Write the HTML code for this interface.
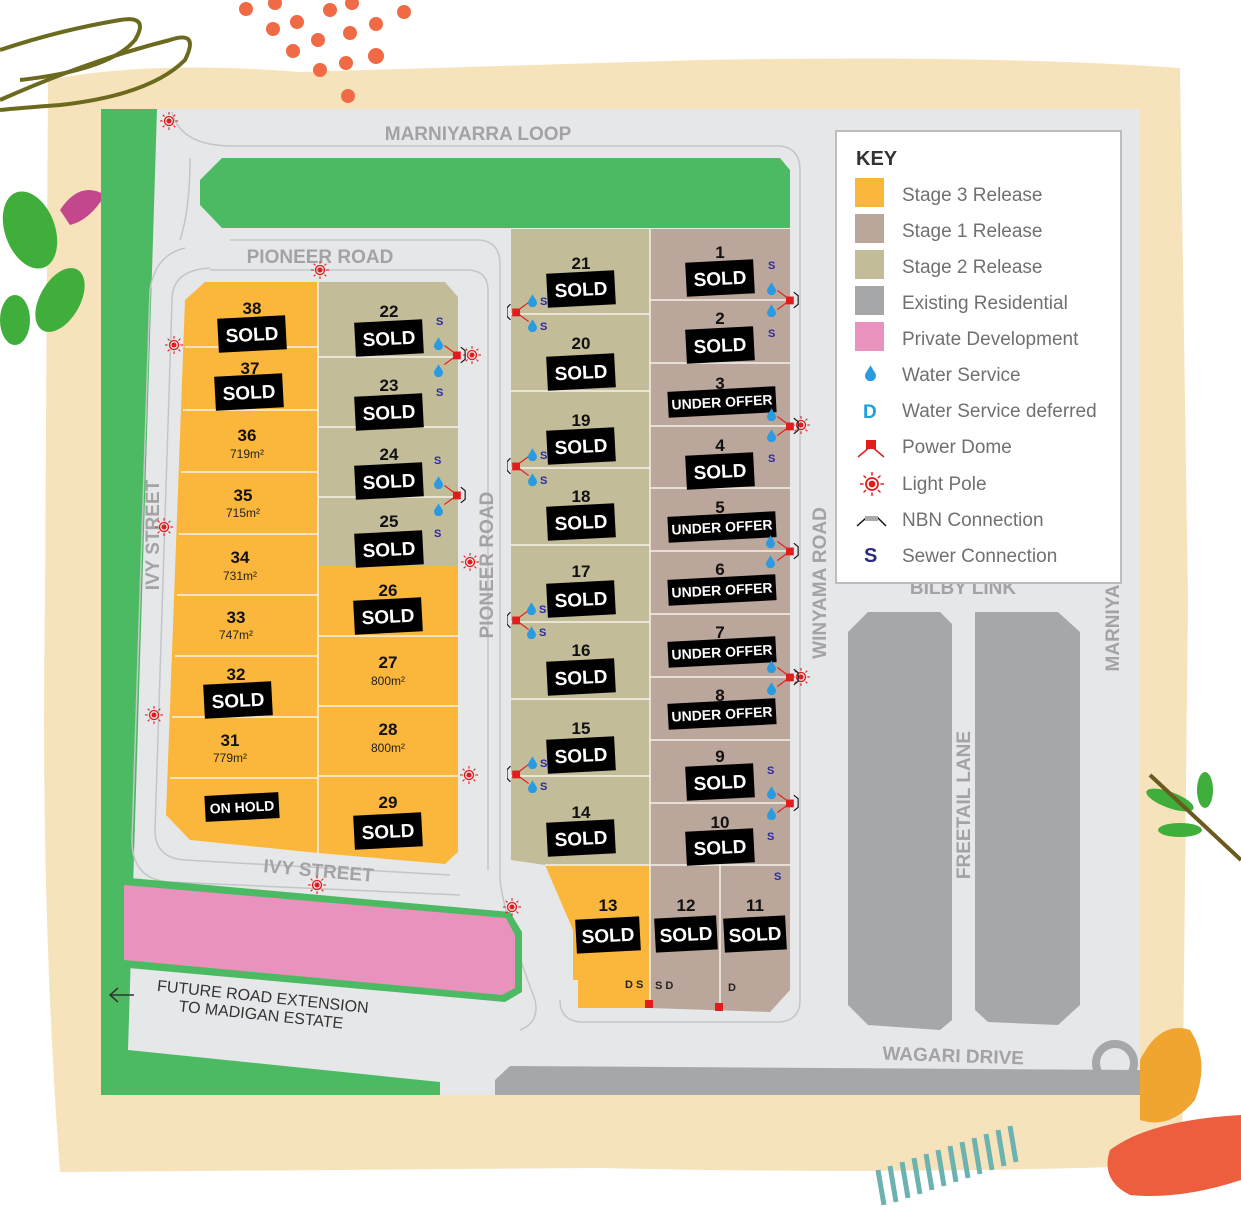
<!DOCTYPE html>
<html><head><meta charset="utf-8"><style>
html,body{margin:0;padding:0;background:#fff;}
svg{display:block;font-family:"Liberation Sans",sans-serif;}
.rd{fill:#a3a3a5;font-weight:bold;font-size:19px;}
.n{font-weight:bold;font-size:17px;fill:#111;text-anchor:middle;}
.a{font-size:12px;fill:#222;text-anchor:middle;}
.st{fill:#fff;font-weight:bold;font-size:19px;text-anchor:middle;}
.uo{fill:#fff;font-weight:bold;font-size:14px;text-anchor:middle;}
.k{font-size:19px;fill:#707070;}
.s{fill:#2a2aa8;font-weight:bold;font-size:11px;}
.ln{fill:none;stroke:#c4c5c8;stroke-width:1.5;}
.w{stroke:#f4f1ea;stroke-width:1.5;}
</style></head><body>
<svg width="1241" height="1213" viewBox="0 0 1241 1213" xmlns="http://www.w3.org/2000/svg">
<defs>
<symbol id="drop" viewBox="0 0 10 14"><path d="M5 0 C7 4 10 7 10 9.5 A5 5 0 0 1 0 9.5 C0 7 3 4 5 0Z" fill="#2a9be0"/></symbol>
<symbol id="lp" viewBox="0 0 20 20"><circle cx="10" cy="10" r="5" fill="none" stroke="#e01c1c" stroke-width="1.5"/><circle cx="10" cy="10" r="2.8" fill="#e01c1c"/><g stroke="#e01c1c" stroke-width="1.2"><line x1="10" y1="0" x2="10" y2="3"/><line x1="10" y1="17" x2="10" y2="20"/><line x1="0" y1="10" x2="3" y2="10"/><line x1="17" y1="10" x2="20" y2="10"/><line x1="3" y1="3" x2="5" y2="5"/><line x1="15" y1="15" x2="17" y2="17"/><line x1="17" y1="3" x2="15" y2="5"/><line x1="3" y1="17" x2="5" y2="15"/></g></symbol>
<symbol id="pdL" viewBox="0 0 30 30"><line x1="10" y1="15" x2="25" y2="4" stroke="#e01c1c" stroke-width="1.3"/><line x1="10" y1="15" x2="25" y2="26" stroke="#e01c1c" stroke-width="1.3"/><rect x="6" y="11" width="9" height="9" fill="#e01c1c"/><path d="M4 6 L0 10 L0 20 L4 24" stroke="#111" fill="none" stroke-width="1.3"/></symbol>
<symbol id="pdR" viewBox="0 0 30 30"><line x1="20" y1="15" x2="5" y2="4" stroke="#e01c1c" stroke-width="1.3"/><line x1="20" y1="15" x2="5" y2="26" stroke="#e01c1c" stroke-width="1.3"/><rect x="15" y="11" width="9" height="9" fill="#e01c1c"/><path d="M24 6 L29 10 L29 20 L24 24" stroke="#111" fill="none" stroke-width="1.3"/></symbol>
</defs>

<!-- decorative background -->
<path d="M48 80 Q150 60 300 72 L700 60 Q1000 55 1180 68 L1188 600 L1182 1165 Q900 1175 600 1168 L60 1172 Q40 900 45 600 Z" fill="#f6e3bb"/>
<g fill="#f06b45">
<circle cx="246" cy="9" r="7"/><circle cx="275" cy="3" r="7"/><circle cx="330" cy="10" r="7"/><circle cx="352" cy="3" r="7"/><circle cx="404" cy="12" r="7"/>
<circle cx="273" cy="29" r="7"/><circle cx="297" cy="22" r="7"/><circle cx="318" cy="40" r="7"/><circle cx="350" cy="33" r="7"/><circle cx="376" cy="24" r="7"/>
<circle cx="293" cy="51" r="7"/><circle cx="346" cy="63" r="7"/><circle cx="376" cy="56" r="8"/><circle cx="320" cy="70" r="7"/><circle cx="348" cy="96" r="7"/>
</g>
<g fill="none" stroke="#6b6a1e" stroke-width="4">
<path d="M0 50 Q60 30 120 20 Q150 15 135 40 Q110 70 20 80"/>
<path d="M0 100 Q90 60 170 40 Q200 30 185 60 Q150 95 60 105 Q20 108 0 110"/>
</g>
<g fill="#3fae3a">
<ellipse cx="30" cy="230" rx="25" ry="40" transform="rotate(-20 30 230)"/>
<ellipse cx="60" cy="300" rx="20" ry="35" transform="rotate(30 60 300)"/>
<ellipse cx="15" cy="320" rx="15" ry="25"/>
</g>
<path d="M60 210 Q80 180 105 195 Q90 220 70 225Z" fill="#c2478d"/>
<g fill="#3fae3a"><ellipse cx="1170" cy="800" rx="25" ry="8" transform="rotate(20 1170 800)"/><ellipse cx="1205" cy="790" rx="8" ry="18"/><ellipse cx="1180" cy="830" rx="22" ry="7"/></g>
<line x1="1150" y1="775" x2="1241" y2="860" stroke="#6b5a1e" stroke-width="4"/>
<path d="M1140 1060 Q1160 1020 1190 1030 Q1210 1060 1195 1100 Q1170 1130 1140 1120Z" fill="#f0a530"/>
<path d="M1110 1150 Q1150 1120 1241 1115 L1241 1180 Q1180 1200 1130 1195 Q1100 1180 1110 1150Z" fill="#ec5e3e"/>
<g stroke="#6cb2b0" stroke-width="5"><line x1="878" y1="1170" x2="884" y2="1205"/><line x1="890" y1="1166" x2="896" y2="1202"/><line x1="902" y1="1162" x2="908" y2="1198"/><line x1="914" y1="1158" x2="920" y2="1194"/><line x1="926" y1="1154" x2="932" y2="1190"/><line x1="938" y1="1150" x2="944" y2="1186"/><line x1="950" y1="1146" x2="956" y2="1182"/><line x1="962" y1="1142" x2="968" y2="1178"/><line x1="974" y1="1138" x2="980" y2="1174"/><line x1="986" y1="1134" x2="992" y2="1170"/><line x1="998" y1="1130" x2="1004" y2="1166"/><line x1="1010" y1="1126" x2="1016" y2="1162"/></g>

<!-- map -->
<rect x="101" y="109" width="1039" height="986" fill="#e6e7e9"/>
<polygon points="101,109 157,109 128,1050 440,1082 440,1095 101,1095" fill="#4cba62"/>
<!-- road outlines -->
<path class="ln" d="M172 112 Q180 145 230 146 L780 146 Q800 148 800 170 L800 1000 Q800 1020 780 1022 L580 1022 Q560 1020 560 1000"/>
<path class="ln" d="M230 240 L480 240 Q500 242 500 265 L500 880 Q505 920 535 1000 Q540 1022 520 1030"/>
<path class="ln" d="M210 270 L470 270 Q488 272 488 290 L488 870"/>
<path class="ln" d="M185 248 Q155 255 150 290 L132 840 Q132 880 170 882 L460 895"/>
<path class="ln" d="M210 268 Q172 270 172 300 L155 830 Q155 858 185 860 L450 875"/>
<path class="ln" d="M190 158 Q190 210 180 240"/>
<!-- top green park -->
<polygon points="222,158 780,158 790,170 790,228 222,228 200,205 200,180" fill="#4cba62"/>
<!-- orange left -->
<polygon points="205,282 318,282 318,853 190,840 166,815 185,300" fill="#fbb73c"/>
<polygon points="318,566 458,566 458,852 445,864 318,853" fill="#fbb73c"/>
<polygon points="318,282 445,282 458,297 458,566 318,566" fill="#c2bc98"/>
<polygon points="511,229 650,229 650,865 545,865 511,860" fill="#c2bc98"/>
<polygon points="545,865 650,865 650,1008 578,1008 578,980 573,980 573,930" fill="#fbb73c"/>
<polygon points="650,229 790,229 790,990 770,1012 650,1008" fill="#bba69c"/>
<!-- lot lines -->
<g class="w">
<line x1="185" y1="347" x2="318" y2="347"/><line x1="183" y1="410" x2="318" y2="410"/><line x1="181" y1="472" x2="318" y2="472"/><line x1="179" y1="534" x2="318" y2="534"/><line x1="177" y1="595" x2="318" y2="595"/><line x1="175" y1="656" x2="318" y2="656"/><line x1="172" y1="717" x2="318" y2="717"/><line x1="170" y1="778" x2="318" y2="778"/>
<line x1="318" y1="282" x2="318" y2="853"/>
<line x1="318" y1="357" x2="458" y2="357"/><line x1="318" y1="427" x2="458" y2="427"/><line x1="318" y1="497" x2="458" y2="497"/><line x1="318" y1="636" x2="458" y2="636"/><line x1="318" y1="706" x2="458" y2="706"/><line x1="318" y1="776" x2="458" y2="776"/>
<line x1="511" y1="314" x2="650" y2="314"/><line x1="511" y1="391" x2="650" y2="391"/><line x1="511" y1="468" x2="650" y2="468"/><line x1="511" y1="545" x2="650" y2="545"/><line x1="511" y1="622" x2="650" y2="622"/><line x1="511" y1="699" x2="650" y2="699"/><line x1="511" y1="776" x2="650" y2="776"/><line x1="545" y1="865" x2="790" y2="865"/>
<line x1="650" y1="229" x2="650" y2="1008"/><line x1="720" y1="865" x2="720" y2="1010"/>
<line x1="650" y1="300" x2="790" y2="300"/><line x1="650" y1="363" x2="790" y2="363"/><line x1="650" y1="426" x2="790" y2="426"/><line x1="650" y1="488" x2="790" y2="488"/><line x1="650" y1="551" x2="790" y2="551"/><line x1="650" y1="614" x2="790" y2="614"/><line x1="650" y1="677" x2="790" y2="677"/><line x1="650" y1="740" x2="790" y2="740"/><line x1="650" y1="803" x2="790" y2="803"/>
</g>
<!-- pink -->
<polygon points="118,877 510,912 522,932 522,992 505,1002 118,967" fill="#4cba62"/>
<polygon points="124,885 506,918 515,935 515,988 502,995 124,960" fill="#ea92be"/>
<!-- existing residential -->
<polygon points="868,612 940,612 952,624 952,1020 940,1030 868,1025 848,1005 848,632" fill="#a6a7a9"/>
<polygon points="975,612 1058,612 1080,632 1080,1005 1058,1025 988,1022 975,1010 975,624" fill="#a6a7a9"/>
<polygon points="510,1066 1140,1070 1140,1095 495,1095 495,1080" fill="#a6a7a9"/>
<circle cx="1115" cy="1063" r="19" fill="none" stroke="#a6a7a9" stroke-width="8"/>

<!-- road labels -->
<text class="rd" x="478" y="140" text-anchor="middle">MARNIYARRA LOOP</text>
<text class="rd" x="320" y="263" text-anchor="middle">PIONEER ROAD</text>
<text class="rd" x="159" y="535" text-anchor="middle" transform="rotate(-90 159 535)">IVY STREET</text>
<text class="rd" x="493" y="565" text-anchor="middle" transform="rotate(-90 493 565)">PIONEER ROAD</text>
<text class="rd" x="826" y="583" text-anchor="middle" transform="rotate(-90 826 583)">WINYAMA ROAD</text>
<text class="rd" x="318" y="877" text-anchor="middle" transform="rotate(5 318 877)">IVY STREET</text>
<text class="rd" x="970" y="805" text-anchor="middle" transform="rotate(-90 970 805)">FREETAIL LANE</text>
<text class="rd" x="963" y="594" text-anchor="middle">BILBY LINK</text>
<text class="rd" x="1119" y="628" text-anchor="middle" transform="rotate(-90 1119 628)">MARNIYA</text>
<text class="rd" x="953" y="1062" text-anchor="middle" transform="rotate(2 953 1062)">WAGARI DRIVE</text>
<g transform="rotate(6 262 1005)" fill="#333" font-size="16"><text x="262" y="1002" text-anchor="middle">FUTURE ROAD EXTENSION</text><text x="262" y="1020" text-anchor="middle">TO MADIGAN ESTATE</text></g>
<path d="M110 995 L134 995 M118 988 L110 995 L118 1002" stroke="#333" stroke-width="1.5" fill="none"/>

<!-- lot labels -->
<g>
<text class="n" x="252" y="314">38</text><text class="n" x="250" y="374">37</text>
<text class="n" x="247" y="441">36</text><text class="a" x="247" y="458">719m²</text>
<text class="n" x="243" y="501">35</text><text class="a" x="243" y="517">715m²</text>
<text class="n" x="240" y="563">34</text><text class="a" x="240" y="580">731m²</text>
<text class="n" x="236" y="623">33</text><text class="a" x="236" y="639">747m²</text>
<text class="n" x="236" y="680">32</text>
<text class="n" x="230" y="746">31</text><text class="a" x="230" y="762">779m²</text>
<text class="n" x="389" y="317">22</text><text class="n" x="389" y="391">23</text><text class="n" x="389" y="460">24</text><text class="n" x="389" y="527">25</text><text class="n" x="388" y="596">26</text>
<text class="n" x="388" y="668">27</text><text class="a" x="388" y="685">800m²</text>
<text class="n" x="388" y="735">28</text><text class="a" x="388" y="752">800m²</text>
<text class="n" x="388" y="808">29</text>
<text class="n" x="581" y="269">21</text><text class="n" x="581" y="349">20</text><text class="n" x="581" y="426">19</text><text class="n" x="581" y="502">18</text><text class="n" x="581" y="577">17</text><text class="n" x="581" y="656">16</text><text class="n" x="581" y="734">15</text><text class="n" x="581" y="818">14</text>
<text class="n" x="608" y="911">13</text><text class="n" x="686" y="911">12</text><text class="n" x="755" y="911">11</text>
<text class="n" x="720" y="258">1</text><text class="n" x="720" y="324">2</text><text class="n" x="720" y="389">3</text><text class="n" x="720" y="451">4</text><text class="n" x="720" y="513">5</text><text class="n" x="720" y="575">6</text><text class="n" x="720" y="638">7</text><text class="n" x="720" y="701">8</text><text class="n" x="720" y="762">9</text><text class="n" x="720" y="828">10</text>
</g>
<!-- SOLD boxes -->
<g>
<g transform="translate(252,334) rotate(-3)"><rect x="-34" y="-17" width="68" height="34"/><text class="st" y="7">SOLD</text></g>
<g transform="translate(249,392) rotate(-3)"><rect x="-34" y="-17" width="68" height="34"/><text class="st" y="7">SOLD</text></g>
<g transform="translate(238,700) rotate(-3)"><rect x="-34" y="-17" width="68" height="34"/><text class="st" y="7">SOLD</text></g>
<g transform="translate(242,807) rotate(-3)"><rect x="-37" y="-13" width="74" height="26"/><text class="uo" y="5">ON HOLD</text></g>
<g transform="translate(389,338) rotate(-3)"><rect x="-34" y="-17" width="68" height="34"/><text class="st" y="7">SOLD</text></g>
<g transform="translate(389,412) rotate(-3)"><rect x="-34" y="-17" width="68" height="34"/><text class="st" y="7">SOLD</text></g>
<g transform="translate(389,481) rotate(-3)"><rect x="-34" y="-17" width="68" height="34"/><text class="st" y="7">SOLD</text></g>
<g transform="translate(389,549) rotate(-3)"><rect x="-34" y="-17" width="68" height="34"/><text class="st" y="7">SOLD</text></g>
<g transform="translate(388,616) rotate(-3)"><rect x="-34" y="-17" width="68" height="34"/><text class="st" y="7">SOLD</text></g>
<g transform="translate(388,831) rotate(-3)"><rect x="-34" y="-17" width="68" height="34"/><text class="st" y="7">SOLD</text></g>
<g transform="translate(581,289) rotate(-3)"><rect x="-34" y="-17" width="68" height="34"/><text class="st" y="7">SOLD</text></g>
<g transform="translate(581,372) rotate(-3)"><rect x="-34" y="-17" width="68" height="34"/><text class="st" y="7">SOLD</text></g>
<g transform="translate(581,446) rotate(-3)"><rect x="-34" y="-17" width="68" height="34"/><text class="st" y="7">SOLD</text></g>
<g transform="translate(581,522) rotate(-3)"><rect x="-34" y="-17" width="68" height="34"/><text class="st" y="7">SOLD</text></g>
<g transform="translate(581,599) rotate(-3)"><rect x="-34" y="-17" width="68" height="34"/><text class="st" y="7">SOLD</text></g>
<g transform="translate(581,677) rotate(-3)"><rect x="-34" y="-17" width="68" height="34"/><text class="st" y="7">SOLD</text></g>
<g transform="translate(581,755) rotate(-3)"><rect x="-34" y="-17" width="68" height="34"/><text class="st" y="7">SOLD</text></g>
<g transform="translate(581,838) rotate(-3)"><rect x="-34" y="-17" width="68" height="34"/><text class="st" y="7">SOLD</text></g>
<g transform="translate(608,935) rotate(-3)"><rect x="-32" y="-17" width="64" height="34"/><text class="st" y="7">SOLD</text></g>
<g transform="translate(686,934) rotate(-3)"><rect x="-31" y="-17" width="62" height="34"/><text class="st" y="7">SOLD</text></g>
<g transform="translate(755,934) rotate(-3)"><rect x="-31" y="-17" width="62" height="34"/><text class="st" y="7">SOLD</text></g>
<g transform="translate(720,278) rotate(-3)"><rect x="-34" y="-17" width="68" height="34"/><text class="st" y="7">SOLD</text></g>
<g transform="translate(720,345) rotate(-3)"><rect x="-34" y="-17" width="68" height="34"/><text class="st" y="7">SOLD</text></g>
<g transform="translate(720,471) rotate(-3)"><rect x="-34" y="-17" width="68" height="34"/><text class="st" y="7">SOLD</text></g>
<g transform="translate(720,782) rotate(-3)"><rect x="-34" y="-17" width="68" height="34"/><text class="st" y="7">SOLD</text></g>
<g transform="translate(720,847) rotate(-3)"><rect x="-34" y="-17" width="68" height="34"/><text class="st" y="7">SOLD</text></g>
<g transform="translate(722,402) rotate(-3)"><rect x="-54" y="-13" width="108" height="26"/><text class="uo" y="5">UNDER OFFER</text></g>
<g transform="translate(722,527) rotate(-3)"><rect x="-54" y="-13" width="108" height="26"/><text class="uo" y="5">UNDER OFFER</text></g>
<g transform="translate(722,590) rotate(-3)"><rect x="-54" y="-13" width="108" height="26"/><text class="uo" y="5">UNDER OFFER</text></g>
<g transform="translate(722,652) rotate(-3)"><rect x="-54" y="-13" width="108" height="26"/><text class="uo" y="5">UNDER OFFER</text></g>
<g transform="translate(722,714) rotate(-3)"><rect x="-54" y="-13" width="108" height="26"/><text class="uo" y="5">UNDER OFFER</text></g>
</g>

<!-- service icons -->
<g>
<use href="#lp" x="160" y="112" width="18" height="18"/><use href="#lp" x="311" y="261" width="18" height="18"/><use href="#lp" x="165" y="336" width="18" height="18"/><use href="#lp" x="155" y="518" width="18" height="18"/><use href="#lp" x="145" y="706" width="18" height="18"/><use href="#lp" x="461" y="553" width="18" height="18"/><use href="#lp" x="460" y="766" width="18" height="18"/><use href="#lp" x="308" y="876" width="18" height="18"/><use href="#lp" x="503" y="898" width="18" height="18"/><use href="#lp" x="463" y="346" width="18" height="18"/><use href="#lp" x="792" y="416" width="18" height="18"/><use href="#lp" x="792" y="668" width="18" height="18"/>
<use href="#pdR" x="440" y="342" width="26" height="26"/><use href="#pdR" x="440" y="482" width="26" height="26"/>
<use href="#pdL" x="507" y="299" width="26" height="26"/><use href="#pdL" x="507" y="453" width="26" height="26"/><use href="#pdL" x="507" y="607" width="26" height="26"/><use href="#pdL" x="507" y="761" width="26" height="26"/>
<use href="#pdR" x="773" y="287" width="26" height="26"/><use href="#pdR" x="773" y="413" width="26" height="26"/><use href="#pdR" x="773" y="538" width="26" height="26"/><use href="#pdR" x="773" y="664" width="26" height="26"/><use href="#pdR" x="773" y="790" width="26" height="26"/>
<use href="#drop" x="434" y="337" width="9" height="13"/><use href="#drop" x="434" y="364" width="9" height="13"/><use href="#drop" x="434" y="476" width="9" height="13"/><use href="#drop" x="434" y="503" width="9" height="13"/>
<use href="#drop" x="528" y="294" width="9" height="13"/><use href="#drop" x="528" y="319" width="9" height="13"/><use href="#drop" x="528" y="448" width="9" height="13"/><use href="#drop" x="528" y="473" width="9" height="13"/><use href="#drop" x="527" y="602" width="9" height="13"/><use href="#drop" x="527" y="626" width="9" height="13"/><use href="#drop" x="528" y="756" width="9" height="13"/><use href="#drop" x="528" y="780" width="9" height="13"/>
<use href="#drop" x="767" y="282" width="9" height="13"/><use href="#drop" x="767" y="304" width="9" height="13"/><use href="#drop" x="767" y="408" width="9" height="13"/><use href="#drop" x="767" y="429" width="9" height="13"/><use href="#drop" x="766" y="535" width="9" height="13"/><use href="#drop" x="766" y="555" width="9" height="13"/><use href="#drop" x="767" y="660" width="9" height="13"/><use href="#drop" x="767" y="682" width="9" height="13"/><use href="#drop" x="767" y="786" width="9" height="13"/><use href="#drop" x="767" y="807" width="9" height="13"/>
<text class="s" x="436" y="325">S</text><text class="s" x="436" y="396">S</text><text class="s" x="434" y="464">S</text><text class="s" x="434" y="537">S</text>
<text class="s" x="540" y="305">S</text><text class="s" x="540" y="330">S</text><text class="s" x="540" y="459">S</text><text class="s" x="540" y="484">S</text><text class="s" x="539" y="613">S</text><text class="s" x="539" y="636">S</text><text class="s" x="540" y="767">S</text><text class="s" x="540" y="790">S</text>
<text class="s" x="768" y="269">S</text><text class="s" x="768" y="337">S</text><text class="s" x="768" y="462">S</text><text class="s" x="767" y="774">S</text><text class="s" x="767" y="840">S</text><text class="s" x="774" y="880">S</text>
<text x="625" y="988" font-size="11" font-weight="bold" fill="#222">D S</text><text x="655" y="989" font-size="11" font-weight="bold" fill="#222">S D</text><text x="728" y="991" font-size="11" font-weight="bold" fill="#222">D</text>
<rect x="645" y="1000" width="8" height="8" fill="#e01c1c"/><rect x="715" y="1003" width="8" height="8" fill="#e01c1c"/>
</g>

<!-- key -->
<rect x="836" y="131" width="285" height="452" fill="#fff" stroke="#bdbdbd" stroke-width="2"/>
<text x="856" y="165" font-size="20" font-weight="bold" fill="#333">KEY</text>
<rect x="855" y="178" width="29" height="29" fill="#fbb73c"/>
<rect x="855" y="214" width="29" height="29" fill="#bba69c"/>
<rect x="855" y="250" width="29" height="29" fill="#c2bc98"/>
<rect x="855" y="286" width="29" height="29" fill="#a6a7a9"/>
<rect x="855" y="322" width="29" height="29" fill="#ea92be"/>
<use href="#drop" x="865" y="365" width="11" height="16"/>
<text x="863" y="418" font-size="19" font-weight="bold" fill="#1ea0dc">D</text>
<g><line x1="871" y1="446" x2="858" y2="457" stroke="#e01c1c" stroke-width="1.5"/><line x1="871" y1="446" x2="884" y2="457" stroke="#e01c1c" stroke-width="1.5"/><rect x="866" y="440" width="10" height="9" fill="#e01c1c"/></g>
<use href="#lp" x="860" y="472" width="24" height="24"/>
<path d="M857 526 L866 518 L878 518 L886 526" stroke="#111" fill="none" stroke-width="1.5"/><rect x="865" y="516" width="13" height="5" fill="#aaa"/>
<text x="864" y="562" font-size="20" font-weight="bold" fill="#2a2a80">S</text>
<g class="k">
<text x="902" y="201">Stage 3 Release</text><text x="902" y="237">Stage 1 Release</text><text x="902" y="273">Stage 2 Release</text><text x="902" y="309">Existing Residential</text><text x="902" y="345">Private Development</text><text x="902" y="381">Water Service</text><text x="902" y="417">Water Service deferred</text><text x="902" y="453">Power Dome</text><text x="902" y="490">Light Pole</text><text x="902" y="526">NBN Connection</text><text x="902" y="562">Sewer Connection</text>
</g>
</svg>
</body></html>
